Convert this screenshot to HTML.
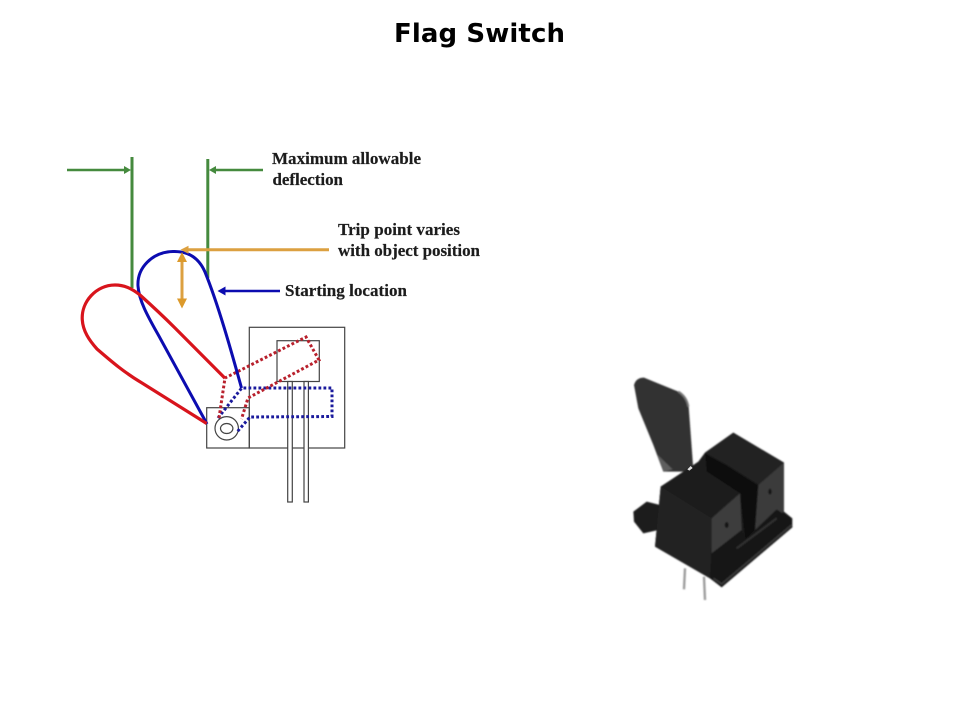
<!DOCTYPE html>
<html>
<head>
<meta charset="utf-8">
<title>Flag Switch</title>
<style>
html,body{margin:0;padding:0;background:#fff;}
svg{display:block;}
.lbl{font-family:"Liberation Serif",serif;font-weight:bold;font-size:17px;fill:#1c1c1c;stroke:#1c1c1c;stroke-width:.2px;}
</style>
</head>
<body>
<svg width="960" height="720" viewBox="0 0 960 720" xmlns="http://www.w3.org/2000/svg">
<defs>
<filter id="soft" x="-5%" y="-5%" width="110%" height="110%"><feGaussianBlur stdDeviation="2.5"/></filter>
<filter id="s2" x="-5%" y="-5%" width="110%" height="110%"><feGaussianBlur stdDeviation="0.3"/></filter>
</defs>

<text x="479.500" y="42" text-anchor="middle" font-family="'DejaVu Sans',sans-serif" font-weight="bold" font-size="26" fill="#000" textLength="171" lengthAdjust="spacing">Flag Switch</text>

<!-- housing -->
<g fill="none" stroke="#444" stroke-width="1.2">
<rect x="249.3" y="327.3" width="95.4" height="120.7" fill="#fff"/>
<rect x="206.7" y="407.7" width="42.6" height="40.3"/>
<rect x="277" y="340.7" width="42.3" height="40.8"/>
<rect x="287.7" y="381.5" width="4.6" height="120.5" fill="#fff"/>
<rect x="304" y="381.5" width="4.4" height="120.5" fill="#fff"/>
<circle cx="226.7" cy="428.3" r="11.7"/>
<ellipse cx="226.7" cy="428.5" rx="6.2" ry="5"/>
</g>

<!-- dotted outlines -->
<path d="M218 418 L241.7 388 L332 388 L332 416.5 L250 417 L237 432" fill="none" stroke="#1a1a9c" stroke-width="3" stroke-dasharray="2.8 2.2"/>
<path d="M219 418 L225 378 L306 337 L319 360 L248 398 L241.500 419" fill="none" stroke="#b8202c" stroke-width="3" stroke-dasharray="2.8 2.2"/>

<!-- green -->
<g stroke="#458a3e" fill="none">
<path d="M132 157V288" stroke-width="3"/>
<path d="M207.8 159V278" stroke-width="3"/>
<path d="M67 170H127M213 170H263" stroke-width="2.4"/>
</g>
<path d="M131 170l-7-4v8zM209 170l7-4v8z" fill="#458a3e"/>

<!-- blue flag -->
<path d="M241.500 388 C231 350 218 304 205 272 C198 256 186 251 173 251.500 C152 252 137 268 138 286 C139 302 150 320 160 338 L207 424" fill="none" stroke="#0c0cb0" stroke-width="3"/>
<!-- red flag -->
<path d="M225 378.300 L175 328 C160 313 150 304 140 295 C131 288 124 285 115 285 C96 285 81 302 82.300 320 C83 331 89 340 97 349 C112 362 125 373 142 383 L206.700 423.500" fill="none" stroke="#d8141c" stroke-width="3.2"/>

<!-- orange -->
<path d="M186 249.700H329M182 258V302" stroke="#dca040" fill="none" stroke-width="3"/>
<path d="M180.500 249.700l8-4v8z" fill="#dca040"/>
<path d="M182 252l-5 10h10zM182 308.500l-5-10h10z" fill="#dc9a2c"/>

<!-- blue arrow -->
<path d="M224 291H280" stroke="#0c0cb0" stroke-width="2.6"/>
<path d="M217.500 291l8-4.500v9z" fill="#0c0cb0"/>

<!-- labels -->
<g filter="url(#s2)">
<text class="lbl" x="272" y="164" textLength="149" lengthAdjust="spacing">Maximum allowable</text>
<text class="lbl" x="272.500" y="185" textLength="70.500" lengthAdjust="spacing">deflection</text>
<text class="lbl" x="338" y="235" textLength="122" lengthAdjust="spacing">Trip point varies</text>
<text class="lbl" x="338" y="256" textLength="142" lengthAdjust="spacing">with object position</text>
<text class="lbl" x="285" y="296" textLength="122" lengthAdjust="spacing">Starting location</text>
</g>

<!-- photo -->
<g transform="translate(630 430) scale(.33333)">
<g filter="url(#soft)">
<path d="M165 415L162 478M222 440L225 510" stroke="#9a9a9a" stroke-width="7" fill="none"/>
<!-- flag -->
<path d="M12 -135Q18 -157 42 -157L145 -115Q172 -100 176 -70L189 105L175 125L100 125L70 45L25 -65Z" fill="#303030"/>
<path d="M145 -115Q170 -100 175 -70" stroke="#777" stroke-width="6" fill="none"/>
<path d="M80 72L128 118L100 125Z" fill="#5e5e5e"/>
<!-- wing -->
<path d="M10 245L50 215L90 225L85 300L40 310L12 275Z" fill="#1a1a1a"/>
<!-- body silhouette -->
<path d="M92 170L175 115L205 95L225 68L310 8L462 98L462 245L487 265L487 292L275 472L240 445L75 350Z" fill="#1a1a1a"/>
<!-- right block faces -->
<path d="M225 68L310 8L462 98L385 165Z" fill="#242424"/>
<path d="M385 165L462 98L462 245L375 300Z" fill="#3a3a3a"/>
<path d="M225 70L290 105L385 165L375 300L345 330L330 190L230 125Z" fill="#0e0e0e"/>
<!-- left block -->
<path d="M92 170L175 115L330 190L245 265Z" fill="#1c1c1c"/>
<path d="M92 170L245 265L240 445L75 350Z" fill="#242424"/>
<path d="M245 265L330 190L335 300L245 370Z" fill="#3c3c3c"/>
<!-- base -->
<path d="M245 370L335 300L345 335L375 300L440 238L480 265L487 290L275 470L240 445Z" fill="#131313"/>
<path d="M250 445L275 462L485 285" stroke="#3a3a3a" stroke-width="5" fill="none"/>
<path d="M320 355L440 265" stroke="#333" stroke-width="6" fill="none"/>
<ellipse cx="290" cy="285" rx="6" ry="9" fill="#161616"/>
<ellipse cx="420" cy="185" rx="5" ry="9" fill="#161616"/>
</g>
<path d="M172 118L182 108L188 114L178 122Z" fill="#e0e0e0"/>
</g>
</svg>
</body>
</html>
